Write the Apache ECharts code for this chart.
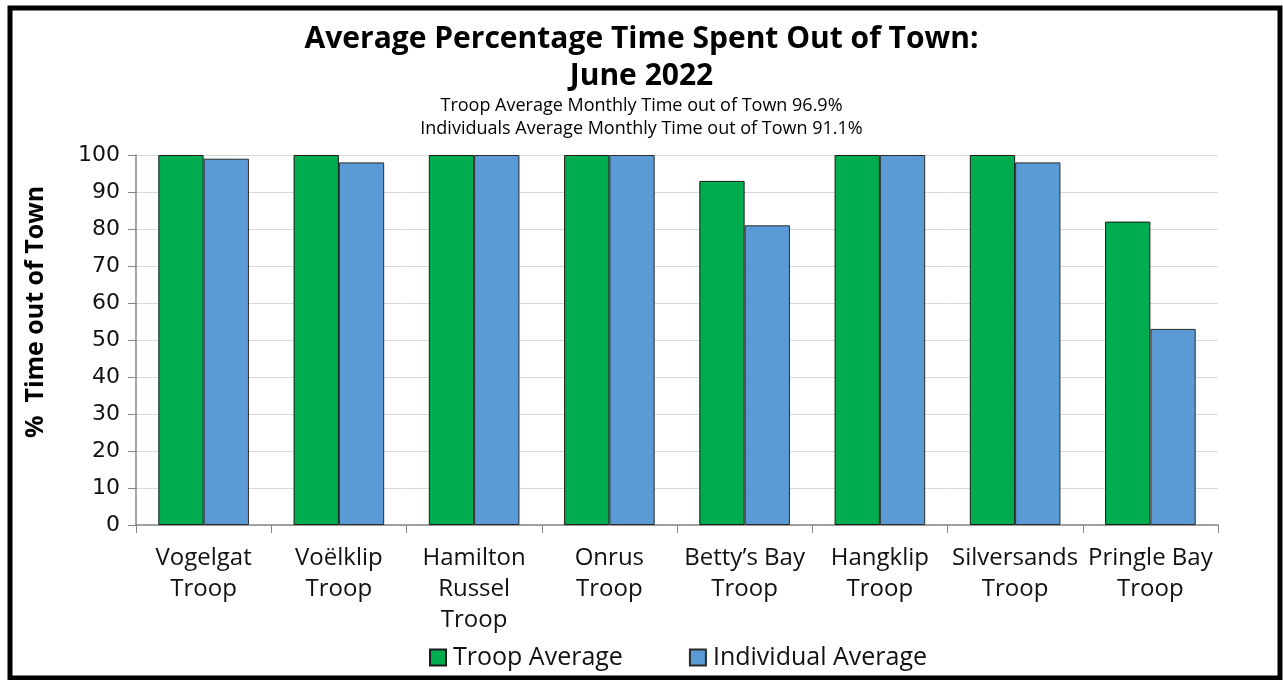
<!DOCTYPE html>
<html>
<head>
<meta charset="utf-8">
<script src="https://cdn.jsdelivr.net/npm/echarts@6/dist/echarts.min.js"></script>
<style>
  html, body { margin: 0; padding: 0; background: #fff; }
  #chart { width: 1283px; height: 680px; }
</style>
</head>
<body>
<div id="chart"></div>
<script>
var categories = [
    'Vogelgat\nTroop', 'Voëlklip\nTroop', 'Hamilton\nRussel\nTroop', 'Onrus\nTroop',
    'Betty’s Bay\nTroop', 'Hangklip\nTroop', 'Silversands\nTroop', 'Pringle Bay\nTroop'
];
var troopAverage = [100, 100, 100, 100, 93, 100, 100, 82];
var individualAverage = [99, 98, 100, 100, 81, 100, 98, 53];
var yTicks = { min: 0, max: 100, interval: 10 };

(function () {
    var chart = echarts.init(document.getElementById('chart'));

    var option = {
        backgroundColor: '#fff',
        animation: false,
        textStyle: { fontFamily: 'Open Sans' },

        title: [
            {
                text: 'Average Percentage Time Spent Out of Town:\nJune 2022',
                left: 'center',
                top: 16,
                textStyle: {
                    fontFamily: 'Open Sans',
                    fontSize: 30,
                    fontWeight: 'bold',
                    color: '#000',
                    lineHeight: 37
                }
            },
            {
                text: 'Troop Average Monthly Time out of Town 96.9%\nIndividuals Average Monthly Time out of Town 91.1%',
                left: 'center',
                top: 89,
                textStyle: {
                    fontFamily: 'Open Sans',
                    fontSize: 18,
                    fontWeight: 'normal',
                    color: '#000',
                    lineHeight: 23
                }
            }
        ],

        graphic: [
            {
                type: 'rect',
                shape: { x: 10, y: 8, width: 1270, height: 670 },
                style: { fill: 'none', stroke: '#000', lineWidth: 5 }
            }
        ],

        legend: {
            bottom: 5,
            left: 424,
            icon: 'rect',
            itemWidth: 16,
            itemHeight: 16,
            itemGap: 66,
            textStyle: { fontSize: 25, color: '#111', padding: [0, 0, 0, 2] },
            data: ['Troop Average', 'Individual Average']
        },

        grid: {
            left: 136,
            right: 65,
            top: 155,
            bottom: 155
        },

        xAxis: {
            type: 'category',
            data: categories,
            axisLine: { lineStyle: { color: '#868686', width: 1.5 } },
            axisTick: { show: true, length: 8, lineStyle: { color: '#868686' } },
            axisLabel: {
                fontSize: 24,
                color: '#111',
                lineHeight: 31,
                margin: 18,
                interval: 0
            }
        },

        yAxis: {
            type: 'value',
            min: yTicks.min,
            max: yTicks.max,
            interval: yTicks.interval,
            name: '%  Time out of Town',
            nameLocation: 'middle',
            nameGap: 88,
            nameTextStyle: {
                fontSize: 25,
                fontWeight: 'bold',
                color: '#000',
                padding: [0, 0, 0, 56]
            },
            axisLine: { show: true, lineStyle: { color: '#868686', width: 1.5 } },
            axisTick: { show: true, length: 8, lineStyle: { color: '#868686' } },
            axisLabel: { fontFamily: 'DejaVu Sans', fontSize: 22, color: '#111', margin: 16 },
            splitLine: { lineStyle: { color: '#d9d9d9', width: 1 } }
        },

        series: [
            {
                name: 'Troop Average',
                type: 'bar',
                data: troopAverage,
                barGap: '0%',
                barCategoryGap: '33%',
                itemStyle: { color: '#00ad4e', borderColor: '#1a1a1a', borderWidth: 1 }
            },
            {
                name: 'Individual Average',
                type: 'bar',
                data: individualAverage,
                itemStyle: { color: '#5b9bd5', borderColor: '#2a2a2a', borderWidth: 1 }
            }
        ]
    };

    chart.setOption(option);
})();
</script>
</body>
</html>
